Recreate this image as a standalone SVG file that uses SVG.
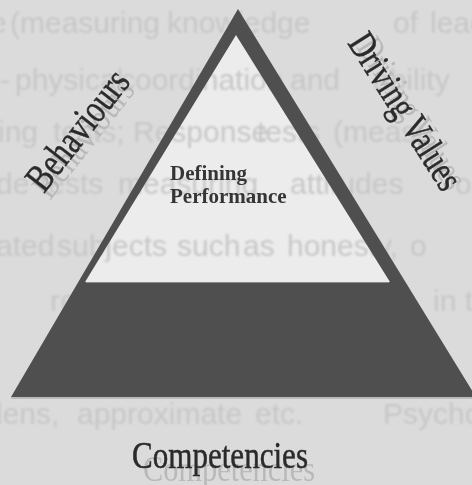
<svg xmlns="http://www.w3.org/2000/svg" width="472" height="485" viewBox="0 0 472 485">
  <defs>
    <style>
      .bleed { font-family: "Liberation Sans", Arial, sans-serif; font-size: 30px; fill: #c7c7c7; }
      .label { font-family: "Liberation Serif", "Times New Roman", serif; fill: #2b2b2b; stroke: #2b2b2b; stroke-width: 0.5px; }
      .ghost { font-family: "Liberation Serif", "Times New Roman", serif; fill: #b9b9b9; }
      .inner { font-family: "Liberation Serif", "Times New Roman", serif; font-weight: bold; font-size: 21px; fill: #363636; }
    </style>
    <filter id="soft" x="-5%" y="-5%" width="110%" height="110%">
      <feGaussianBlur stdDeviation="0.9"/>
    </filter>
    <filter id="softer" x="-5%" y="-5%" width="110%" height="110%">
      <feGaussianBlur stdDeviation="0.45"/>
    </filter>
  </defs>

  <!-- paper -->
  <rect width="472" height="485" fill="#dbdbdb"/>

  <!-- light upper band of the pyramid -->
  <polygon id="top-band" points="236,35 85,282 390,282" fill="#ececec"/>

  <!-- faint text showing through from the reverse side of the page -->
  <g id="show-through" class="bleed" filter="url(#soft)">
    <text x="-10" y="33">e <tspan x="10">(measuring</tspan><tspan x="167">knowledge</tspan><tspan x="393">of</tspan><tspan x="430">lead</tspan></text>
    <text x="0" y="90">- <tspan x="15">physical</tspan><tspan x="120">coordination</tspan><tspan x="290">and</tspan><tspan x="373">ability</tspan></text>
    <text x="-2" y="142">ing <tspan x="53">tests;</tspan><tspan x="133">Response</tspan><tspan x="257">tests</tspan><tspan x="333">(measu</tspan></text>
    <text x="-4" y="194">de <tspan x="40">tests</tspan><tspan x="118">measuring</tspan><tspan x="290">attitudes</tspan><tspan x="455">o</tspan></text>
    <text x="-4" y="256">ated <tspan x="57">subjects</tspan><tspan x="177">such</tspan><tspan x="243">as</tspan><tspan x="287">honesty,</tspan><tspan x="410">o</tspan></text>
    <text x="50" y="311">reen<tspan x="433">in t</tspan></text>
    <text x="-4" y="424">lens, <tspan x="77">approximate</tspan><tspan x="255">etc.</tspan><tspan x="383">Psychom</tspan></text>
  </g>

  <!-- pyramid frame and solid base -->
  <g id="pyramid">
    <path d="M238,9 L11,397 L476,397 Z M236,35 L85,282 L390,282 Z" fill="#4f4f4f" fill-rule="evenodd"/>
    <line x1="86" y1="282.5" x2="389" y2="282.5" stroke="#8a8a8a" stroke-width="1"/>
    <line x1="11" y1="398" x2="472" y2="398" stroke="#9a9a9a" stroke-width="1"/>
  </g>

  <!-- label inside the pyramid -->
  <g id="defining-performance" filter="url(#softer)">
    <text class="inner" x="170" y="180">Defining</text>
    <text class="inner" x="170" y="203">Performance</text>
  </g>

  <!-- left side label -->
  <g id="behaviours" filter="url(#softer)">
    <text class="ghost" font-size="38" textLength="140" lengthAdjust="spacingAndGlyphs" transform="translate(50,201) rotate(-52)">Behaviours</text>
    <text class="label" font-size="40" textLength="142" lengthAdjust="spacingAndGlyphs" transform="translate(44,194) rotate(-52)">Behaviours</text>
  </g>

  <!-- right side label -->
  <g id="driving-values" filter="url(#softer)">
    <text class="ghost" font-size="37" textLength="172" lengthAdjust="spacingAndGlyphs" transform="translate(356,47) rotate(57.6)">Driving Values</text>
    <text class="label" font-size="39" textLength="178" lengthAdjust="spacingAndGlyphs" transform="translate(347,43) rotate(57.6)">Driving Values</text>
  </g>

  <!-- base label -->
  <g id="competencies" filter="url(#softer)">
    <text class="ghost" font-size="36" textLength="172" lengthAdjust="spacingAndGlyphs" x="143" y="481">Competencies</text>
    <text class="label" font-size="38" textLength="176" lengthAdjust="spacingAndGlyphs" x="132" y="468">Competencies</text>
  </g>
</svg>
